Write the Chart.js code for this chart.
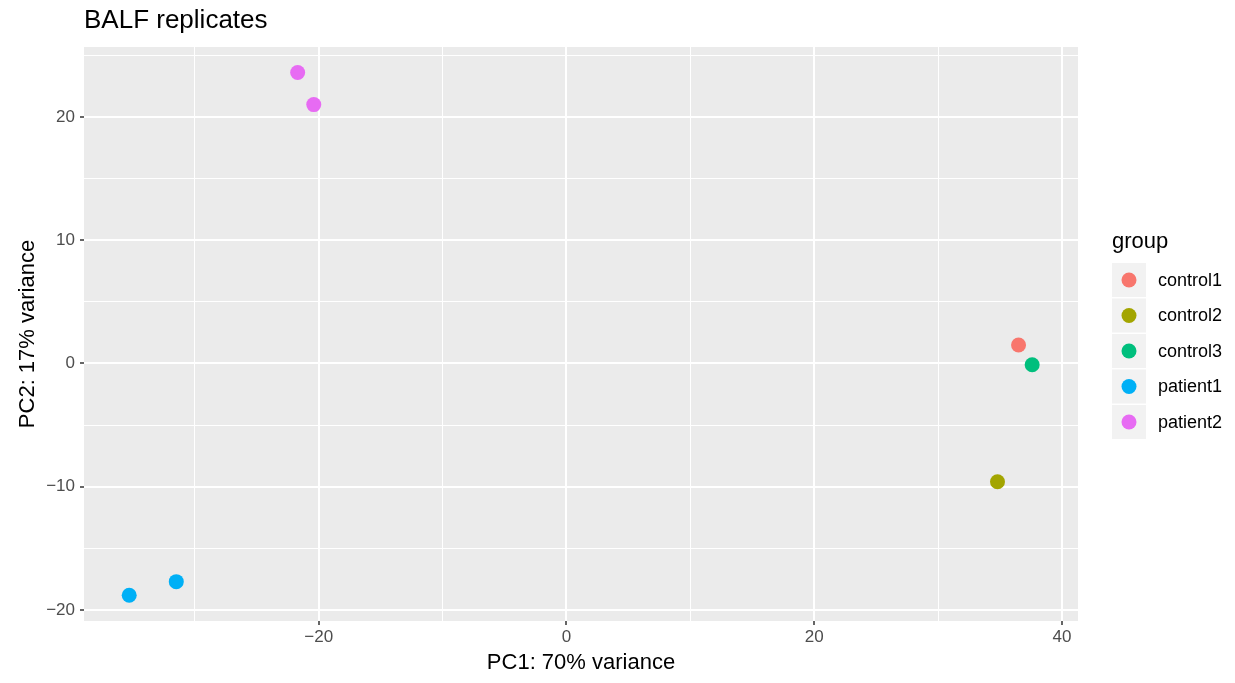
<!DOCTYPE html>
<html>
<head>
<meta charset="utf-8">
<script src="https://cdn.jsdelivr.net/npm/chart.js@4"></script>
<style>
  html, body { margin: 0; padding: 0; background: #fff; }
  #wrap { width: 1235px; height: 683px; position: relative; }
</style>
</head>
<body>
<div id="wrap"><canvas id="pca" width="1235" height="683"></canvas></div>
<script>
// datos
const grupos = ['control1', 'control2', 'control3', 'patient1', 'patient2'];
const colores = ['#F8766D', '#A3A500', '#00BF7D', '#00B0F6', '#E76BF3'];
const pc1 = [[36.5], [34.8], [37.6], [-35.3, -31.5], [-21.7, -20.4]];
const pc2 = [[1.5], [-9.6], [-0.1], [-18.8, -17.7], [23.6, 21.0]];
const ticksX = [-20, 0, 20, 40];
const ticksY = [-20, -10, 0, 10, 20];

const fuente = '"Liberation Sans", Arial, Helvetica, sans-serif';

const datasets = grupos.map((g, i) => ({
    label: g,
    data: pc1[i].map((x, j) => ({ x: x, y: pc2[i][j] })),
    backgroundColor: colores[i],
    borderWidth: 0,
    pointRadius: 7.5,
    pointHoverRadius: 7.5
}));

// fondo gris del panel, titulo y leyenda estilo ggplot
const ggPlugin = {
    id: 'gg',
    beforeDraw(chart) {
        const { ctx, chartArea: a } = chart;
        ctx.save();
        ctx.fillStyle = '#EBEBEB';
        ctx.fillRect(a.left, a.top, a.right - a.left, a.bottom - a.top);
        ctx.restore();
    },
    afterDraw(chart) {
        const { ctx, chartArea: a } = chart;
        ctx.save();
        ctx.fillStyle = '#000';
        ctx.font = '26px ' + fuente;
        ctx.textBaseline = 'middle';
        ctx.fillText('BALF replicates', a.left, 21);

        // leyenda
        const lx = 1112, ly0 = 263, key = 34;
        ctx.font = '22px ' + fuente;
        ctx.fillText('group', lx, 242);
        ctx.font = '18px ' + fuente;
        grupos.forEach((g, i) => {
            const y = ly0 + i * (key + 1.5);
            ctx.fillStyle = '#F2F2F2';
            ctx.fillRect(lx, y, key, key);
            ctx.beginPath();
            ctx.arc(lx + key / 2, y + key / 2, 7.5, 0, Math.PI * 2);
            ctx.fillStyle = colores[i];
            ctx.fill();
            ctx.fillStyle = '#000';
            ctx.fillText(g, 1158, y + key / 2 + 1);
        });
        ctx.restore();
    }
};

function esMayor(valor, lista) {
    return lista.includes(valor);
}

function etiqueta(v, lista) {
    if (!esMayor(v, lista)) return '';
    return v < 0 ? '\u2212' + Math.abs(v) : String(v);
}

new Chart(document.getElementById('pca'), {
    type: 'scatter',
    data: { datasets: datasets },
    plugins: [ggPlugin],
    options: {
        responsive: false,
        animation: false,
        layout: { padding: { top: 47, right: 157, left: 0, bottom: 0 } },
        plugins: {
            legend: { display: false },
            tooltip: { enabled: false },
            title: { display: false }
        },
        scales: {
            x: {
                type: 'linear',
                min: -38.95,
                max: 41.3,
                afterBuildTicks(scale) {
                    scale.ticks = [-30, -20, -10, 0, 10, 20, 30, 40].map(v => ({ value: v }));
                },
                afterFit(scale) { scale.height = 62; },
                border: { display: false },
                grid: {
                    color: '#FFFFFF',
                    lineWidth: ctx => esMayor(ctx.tick.value, ticksX) ? 2 : 1,
                    drawTicks: true,
                    tickLength: 4,
                    tickWidth: 1.5,
                    tickColor: ctx => esMayor(ctx.tick.value, ticksX) ? '#333333' : 'rgba(0,0,0,0)'
                },
                ticks: {
                    autoSkip: false,
                    maxRotation: 0,
                    padding: 2,
                    color: '#4D4D4D',
                    font: { family: fuente, size: 17 },
                    callback: v => etiqueta(v, ticksX)
                },
                title: {
                    display: true,
                    text: 'PC1: 70% variance',
                    color: '#000',
                    font: { family: fuente, size: 22 },
                    padding: { top: 7, bottom: 7 }
                }
            },
            y: {
                type: 'linear',
                min: -20.89,
                max: 25.67,
                afterBuildTicks(scale) {
                    scale.ticks = [-20, -15, -10, -5, 0, 5, 10, 15, 20, 25].map(v => ({ value: v }));
                },
                afterFit(scale) { scale.width = 84; },
                border: { display: false },
                grid: {
                    color: '#FFFFFF',
                    lineWidth: ctx => esMayor(ctx.tick.value, ticksY) ? 2 : 1,
                    drawTicks: true,
                    tickLength: 4,
                    tickWidth: 1.5,
                    tickColor: ctx => esMayor(ctx.tick.value, ticksY) ? '#333333' : 'rgba(0,0,0,0)'
                },
                ticks: {
                    autoSkip: false,
                    padding: 5,
                    color: '#4D4D4D',
                    font: { family: fuente, size: 17 },
                    callback: v => etiqueta(v, ticksY)
                },
                title: {
                    display: true,
                    text: 'PC2: 17% variance',
                    color: '#000',
                    font: { family: fuente, size: 22 },
                    padding: { top: 15, bottom: 6 }
                }
            }
        }
    }
});
</script>
</body>
</html>
